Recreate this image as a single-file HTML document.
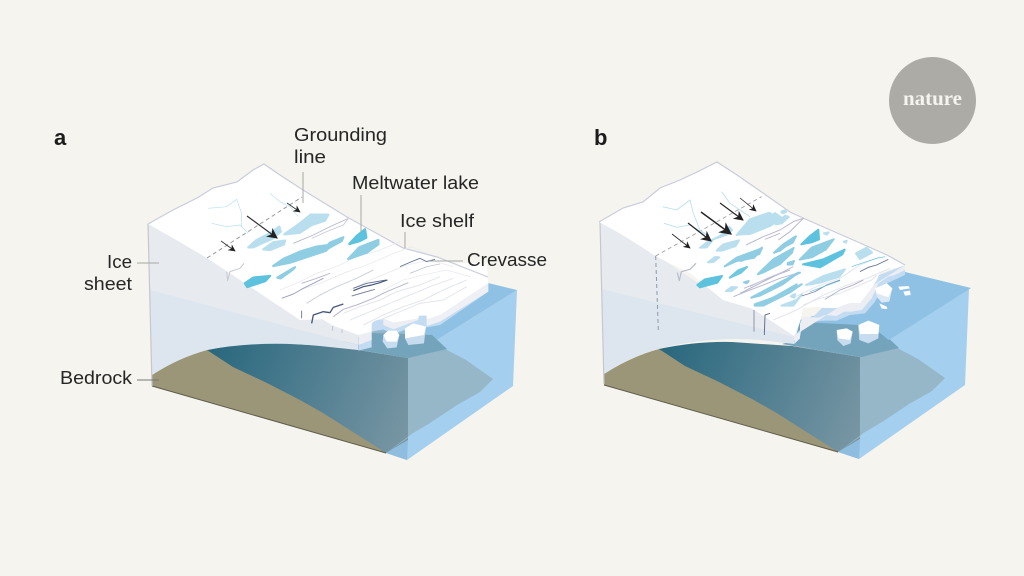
<!DOCTYPE html>
<html><head><meta charset="utf-8"><title>Ice shelf diagram</title>
<style>
html,body{margin:0;padding:0;background:#f5f4ee}
svg{display:block}
text{font-family:"Liberation Sans",sans-serif;font-size:18.5px;fill:#262626}
</style></head><body>
<svg width="1024" height="576" viewBox="0 0 1024 576" xmlns="http://www.w3.org/2000/svg">
<defs>
<linearGradient id="dk" gradientUnits="userSpaceOnUse" x1="215" y1="345" x2="410" y2="430">
<stop offset="0" stop-color="#2a687e"/><stop offset="1" stop-color="#7896a4"/></linearGradient>
<marker id="ah" viewBox="0 0 10 10" refX="9" refY="5" markerWidth="9" markerHeight="9" orient="auto" markerUnits="strokeWidth"><path d="M0 0L10 5L0 10L3 5Z" fill="#222"/></marker>
<g id="box">
<polygon points="408,358 517,290 513,386 407,460 386,453" fill="#a4cfee"/>
<polygon points="340,345 488,283 517,290 408,358" fill="#8fc1e4"/>
<path d="M207,350 Q245,342 280,343 L340,347 L408,358 L408,440 L386,453 L300,425 L207,370 Z" fill="url(#dk)"/>
<polygon points="372,330 430,335 447,350 466,360 493,379 480,392 457,405 430,423 413,433 386,453 408,438 408,358 358,350" fill="#95b7c8"/>
<polygon points="330,345 372,333 432,335 447,349 408,358" fill="#74a4bb"/>
<polygon points="386,453 408,440 407,460" fill="#8fbde0"/>
<path d="M152,375 Q178,358 207,350 L233,367 L267,383 L300,400 L323,413 L353,432 L386,453 L152,386 Z" fill="#9b9678"/>
<path d="M152,386 L386,453" stroke="#5f5c4a" stroke-width="1" fill="none"/>
<path d="M207,258 L205,290 L207,350" stroke="#9aa4b0" stroke-width="1" stroke-dasharray="4 3" fill="none"/>
</g>
</defs>

<rect width="1024" height="576" fill="#f5f4ee"/>

<!-- PANEL A -->
<use href="#box"/>
<path d="M148,224 L173,238 L207,258 L243,282 L280,302 L302,310 L358,335 L358,345 L150,290 Z" fill="#e7eaef"/>
<path d="M150,290 L358,345 L358,350 L320,346 Q260,340 207,350 Q178,358 152,375 Z" fill="#dde6ef"/>
<path d="M148,224 L152,386" stroke="#c4c7ce" stroke-width="1.2" fill="none"/>
<g transform="translate(280,270) scale(.3333)">
<polygon points="235,195 300,140 480,135 625,40 625,65 480,165 440,172 415,165 340,192 310,178 275,185 275,232 235,242" fill="#c3dcf2"/>
<polygon points="235,195 275,185 275,210 235,225" fill="#eceef3"/>
<polygon points="310,145 310,165 340,178 415,150 418,125 340,158" fill="#eceef3"/>
<polygon points="440,148 480,135 625,40 625,65 480,155 440,168" fill="#eef0f5"/>
<polygon points="310,195 325,182 350,182 358,195 350,232 322,235 308,215" fill="#c7dcef"/>
<polygon points="310,195 325,182 350,182 358,195 350,215 320,215" fill="#fff"/>
<polygon points="375,175 400,160 438,170 432,220 385,225 375,205" fill="#c7dcef"/>
<polygon points="375,175 400,160 438,170 432,195 375,205" fill="#fff"/>
<polygon points="-2,95 65,120 100,130 155,165 235,195 275,185 275,155 310,145 340,158 415,145 418,125 440,125 440,148 480,135 625,40 620,-20 0,-20" fill="#fff"/>
</g>
<path d="M148,224 L173,210 L197,198 L213,188 L237,182 L253,170 L264,164 L280,175 L303,190 L347,217 L403,248 L437,257 L488,277 L488,283 L440,315 L300,320 L243,282 L207,258 L173,238 Z" fill="#fff"/>
<path d="M148,224 L173,210 L197,198 L213,188 L237,182 L253,170 L264,164 L280,175 L303,190 L347,217 L403,248 L437,257 L488,277" stroke="#c9ccdc" stroke-width="1.2" fill="none"/>
<g transform="translate(280,110) scale(.3333)" fill="none" stroke-linejoin="round">
<path d="M0,540 L60,515 L110,490 L170,470 L230,440 L300,420 L360,395" stroke="#e9ebf2" stroke-width="2.5"/>
<path d="M60,540 L120,520 L190,490 L260,465 L330,435 L395,410 L440,430" stroke="#e9ebf2" stroke-width="2.5"/>
<path d="M210,540 L260,515 L320,490 L380,465 L450,450 L520,470" stroke="#e9ebf2" stroke-width="2.5"/>
<path d="M310,540 L370,510 L430,495 L500,480 L570,500" stroke="#e9ebf2" stroke-width="2.5"/>
<path d="M40,400 L100,375 L150,350 L205,325" stroke="#b4b7cd" stroke-width="2.5"/>
<path d="M95,385 L140,365 L190,345 L205,325" stroke="#c6c8da" stroke-width="2.5"/>
<path d="M360,470 L395,455 L420,445 L440,455 L465,448" stroke="#5d6d8e" stroke-width="2.5"/>
<path d="M390,490 L440,470 L480,462" stroke="#b4b7cd" stroke-width="2"/>
<path d="M65,520 L110,505 L150,490" stroke="#b4b7cd" stroke-width="2.5"/>
<path d="M220,535 L260,520 L320,510" stroke="#5d6d8e" stroke-width="3"/>
</g>
<g transform="translate(280,270) scale(.3333)" fill="none" stroke-linejoin="round">
<path d="M95,160 L100,135 L130,125 L150,128 L160,112 L190,102" stroke="#46567a" stroke-width="4"/>
<path d="M220,62 L250,50 L275,45 L300,38 L322,30" stroke="#46567a" stroke-width="3.5"/>
<path d="M215,78 L250,68 L285,58" stroke="#7d84a4" stroke-width="3"/>
<path d="M160,140 L190,118 L230,105 L280,85 L320,65 L385,38" stroke="#b4b7cd" stroke-width="3"/>
<path d="M5,85 L40,72 L70,55 L110,35 L130,25" stroke="#9ea3bd" stroke-width="3"/>
<path d="M80,100 L120,75 L170,50 L230,25 L280,0" stroke="#cdd0df" stroke-width="3"/>
<path d="M190,130 L240,110 L300,90 L350,65 L420,45 L480,20" stroke="#e4e6ee" stroke-width="3"/>
<path d="M210,150 L270,125 L330,100 L390,75 L450,50 L520,25" stroke="#e4e6ee" stroke-width="3"/>
<path d="M250,165 L310,135 L370,110 L430,90 L490,60 L560,30" stroke="#e4e6ee" stroke-width="3"/>
<path d="M300,150 L360,125 L420,100 L490,90 L560,50" stroke="#e4e6ee" stroke-width="3"/>
<path d="M65,145 L65,122" stroke="#5d6d8e" stroke-width="2.5"/>
<path d="M158,182 L158,168 M186,188 L186,178" stroke="#b4b7cd" stroke-width="2.5"/>
</g>
<g transform="translate(40,110) scale(.3333)" stroke-linejoin="round" stroke-width="7">
<g fill="#b9dfee" stroke="#b9dfee">
<polygon points="625,412 650,390 690,370 718,350 722,365 700,385 665,400 640,412"/>
<polygon points="670,418 700,397 735,392 732,403 690,420"/>
<polygon points="733,373 780,340 812,314 865,314 855,332 815,345 780,368"/>
</g>
<g fill="#8fcde3" stroke="#8fcde3">
<polygon points="700,468 730,447 780,425 830,410 875,404 858,422 810,438 750,458"/>
<polygon points="845,427 870,398 910,382 905,393 870,412"/>
<polygon points="712,503 765,472 757,480 722,505"/>
<polygon points="925,447 958,412 1015,390 1015,403 980,428"/>
</g>
<polygon points="615,520 640,503 690,498 676,513 622,531" fill="#5cc2dd" stroke="#5cc2dd"/>
<polygon points="928,402 950,378 975,358 979,383 960,393" fill="#5cc2dd" stroke="#5cc2dd"/>
<g fill="none" stroke="#b8e0f0" stroke-width="2">
<path d="M505,295 L560,290 L590,268 L605,310 L605,350 L625,370"/>
<path d="M515,340 L560,350 L600,345 L625,370"/>
<path d="M690,250 L720,275 L750,290 L775,320"/>
</g>
<path d="M560,485 L563,512 L570,485 L600,475 L612,460" fill="none" stroke="#c5c9d4" stroke-width="3"/>
</g>
<path d="M207,258 L302,197" stroke="#9a9a9a" stroke-width="1" stroke-dasharray="4 3" fill="none"/>
<g stroke="#333" fill="none">
<path d="M247,216 L277,238" stroke-width="1.2" marker-end="url(#ah)"/>
<path d="M221,241 L235,251" stroke-width=".8" marker-end="url(#ah)"/>
<path d="M287,203 L300,212" stroke-width=".8" marker-end="url(#ah)"/>
</g>

<!-- PANEL B -->
<g transform="translate(452,-1)"><use href="#box"/></g>
<polygon points="794,344 800,320 850,305 905,272 971,288 862,357" fill="#8fc1e4"/>
<polygon points="794,344 800,322 860,325 880,333 897,347 862,357" fill="#74a4bb"/>
<path d="M600,222 L625,237 L659,257 L695,281 L732,301 L753,309 L794,336 L794,338 L602,289 Z" fill="#e7eaef"/>
<path d="M602,289 L794,337 L794,344 L760,340 Q710,336 658,349 Q630,357 604,374 Z" fill="#dde6ef"/>
<path d="M600,222 L604,384" stroke="#c4c7ce" stroke-width="1.2" fill="none"/>
<g transform="translate(740,190) scale(.3333)">
<path d="M163,462 L180,440 L190,397 L255,392 L290,392 L330,375 L375,370 L405,335 L425,295 L445,278 L495,255 L495,225 L300,300 L163,437 Z" fill="#c3dcf2"/>
<path d="M163,437 L163,462 L180,445 L180,400 L190,380 L235,383 L255,375 L290,378 L312,365 L335,365 L365,360 L395,325 L415,280 L445,260 L465,255 L495,240 L495,225 Z" fill="#eceef3"/>
<polygon points="355,410 385,392 418,405 415,445 385,460 358,450" fill="#c7dcef"/>
<polygon points="355,405 385,392 418,405 415,432 360,432" fill="#fff"/>
<polygon points="290,425 320,415 338,425 332,460 310,468 292,450" fill="#c7dcef"/>
<polygon points="290,420 320,415 338,425 330,450 295,445" fill="#fff"/>
<polygon points="405,295 440,280 457,295 448,335 425,338 410,320" fill="#dce8f3"/>
<polygon points="405,295 440,280 457,295 445,322 410,310" fill="#fff"/>
<polygon points="475,290 505,288 510,295 480,300" fill="#fff"/>
<polygon points="490,305 510,302 512,315 495,317" fill="#fff"/>
<polygon points="418,340 440,350 442,357 425,356" fill="#fff"/>
</g>
<polygon points="599,222 623,208 643,202 660,188 680,180 697,172 717,162 737,175 763,193 790,212 803,218 860,243 887,255 905,265 897,268 888,270 880,272 877,280 868,293 860,303 850,303 844,305 837,308 825,308 818,307 803,308 800,322 794,336 753,309 723,300 690,273 657,257 623,235" fill="#fff"/>
<polyline points="599,222 623,208 643,202 660,188 680,180 697,172 717,162 737,175 763,193 790,212 803,218 860,243 887,255 905,265" fill="none" stroke="#c9ccdc" stroke-width="1.2"/>
<g transform="translate(590,150) scale(.3333)" stroke-linejoin="round" stroke-width="6">
<path d="M197,318 L205,540" stroke="#8c9aa8" stroke-width="3" stroke-dasharray="12 9" fill="none"/>
<path d="M197,318 L515,140" stroke="#9a9a9a" stroke-width="2.5" stroke-dasharray="12 9" fill="none"/>
<g fill="none" stroke="#b8e0f0" stroke-width="2.5">
<path d="M218,170 L260,180 L300,150 L310,190 L330,240 L350,255"/>
<path d="M222,220 L260,232 L300,225 L350,255"/>
<path d="M395,125 L420,160 L450,180 L480,200"/>
</g>
<path d="M262,368 L268,392 L274,365 L300,358 L318,340" fill="none" stroke="#b8bccb" stroke-width="3.5"/>
<g fill="#b9dfee" stroke="#b9dfee">
<polygon points="330,293 350,278 390,258 418,230 426,240 413,253 370,268 350,292"/>
<polygon points="380,302 400,283 447,271 437,288 395,302"/>
<polygon points="440,255 480,208 538,188 565,205 528,222 480,248"/>
<polygon points="558,223 588,198 596,201 575,220"/>
<polygon points="574,185 585,181 589,186 578,190"/>
<polygon points="354,337 375,321 388,322 370,336"/>
<polygon points="408,423 425,411 441,412 425,423"/>
</g>
<g fill="#8fcde3" stroke="#8fcde3">
<polygon points="404,349 440,323 516,295 493,323 440,333"/>
<polygon points="462,397 476,393 470,400"/>
<polygon points="504,373 540,343 610,295 606,308 570,342 520,367"/>
<polygon points="552,308 580,283 615,260 607,273 570,302"/>
<polygon points="494,467 560,438 635,403 600,427 520,467"/>
<polygon points="484,443 560,403 630,368 600,383 520,427"/>
<polygon points="593,344 612,333 608,343"/>
</g>
<polygon points="419,383 445,361 471,351 453,368" fill="#6fc8df" stroke="#6fc8df"/>
<polygon points="322,405 345,388 396,378 382,398 330,412" fill="#5cc2dd" stroke="#5cc2dd"/>
<g fill="none" stroke="#b8bbd0" stroke-width="3">
<path d="M468,285 L520,260 L570,240 L610,215 L640,205"/>
<path d="M525,268 L570,250"/>
<path d="M430,440 L480,420 L520,405 L570,385 L620,370"/>
<path d="M462,415 L510,395 L560,375 L610,350"/>
</g>
</g>
<g transform="translate(740,190) scale(.3333)" stroke-linejoin="round" stroke-width="6">
<g fill="none">
<path d="M190,345 L240,325 L300,310 L360,285 L395,270 L410,255" stroke="#e4e6ee" stroke-width="3"/>
<path d="M100,390 L170,360 L240,320 L310,290 L380,265 L450,235" stroke="#e4e6ee" stroke-width="3"/>
<path d="M165,320 L230,290 L300,265 L360,225 L420,200" stroke="#e4e6ee" stroke-width="3"/>
</g>
<g fill="#b9dfee" stroke="#b9dfee">
<polygon points="198,285 250,258 315,238 298,260 240,278"/>
<polygon points="348,190 380,173 396,188 360,207"/>
<polygon points="311,155 320,152 318,158"/>
<polygon points="252,130 266,127 260,134"/>
<polygon points="124,347 170,330 186,313 160,347"/>
<polygon points="152,319 165,312 163,323"/>
<polygon points="3,133 50,112 105,69 127,85 90,108 30,132"/>
<polygon points="104,99 135,78 145,80 115,102"/>
</g>
<g fill="#8fcde3" stroke="#8fcde3">
<polygon points="179,209 215,173 281,148 258,178 215,202"/>
<polygon points="104,188 140,158 168,139 158,158 120,177"/>
<polygon points="54,252 100,208 161,174 148,188 100,227 60,247"/>
<polygon points="3,213 66,173 58,192 20,207"/>
<polygon points="143,219 161,214 154,222"/>
<polygon points="34,323 100,288 175,248 128,283 60,317"/>
<polygon points="44,343 100,323 170,283 128,312 60,347"/>
</g>
<g fill="#5cc2dd" stroke="#5cc2dd">
<polygon points="184,163 210,138 235,119 237,148 215,157"/>
<polygon points="189,223 250,208 314,179 307,193 240,232"/>
</g>
<g fill="none">
<path d="M185,318 L225,305 L260,285 L300,270" stroke="#7d84a4" stroke-width="2.5"/>
<path d="M255,328 L300,300 L340,285 L370,270" stroke="#b4b7cd" stroke-width="3"/>
<path d="M360,245 L385,232 L410,225 L445,208" stroke="#5d6d8e" stroke-width="2.5"/>
<path d="M335,230 L370,218 L410,205 L435,200" stroke="#5cc2dd" stroke-width="2"/>
<path d="M210,305 L250,290 L300,272" stroke="#5cc2dd" stroke-width="2"/>
<path d="M0,310 L50,285 L110,255 L150,240" stroke="#b4b7cd" stroke-width="3"/>
<path d="M30,290 L80,265 L130,245" stroke="#c9ccdc" stroke-width="2.5"/>
<path d="M115,150 L150,125 L175,100 L190,85" stroke="#b4b7cd" stroke-width="3"/>
<path d="M42,360 L42,425" stroke="#9097ab" stroke-width="3"/>
<path d="M90,370 L75,375 L73,435" stroke="#66718f" stroke-width="3"/>
</g>
</g>
<g fill="none" stroke="#222">
<path d="M672,234 L690,248" stroke-width=".8" marker-end="url(#ah)"/>
<path d="M688,223 L711,241" stroke-width="1.2" marker-end="url(#ah)"/>
<path d="M701,212 L731,234" stroke-width="1.4" marker-end="url(#ah)"/>
<path d="M720,203 L743,220" stroke-width="1.1" marker-end="url(#ah)"/>
<path d="M740,198 L756,211" stroke-width=".8" marker-end="url(#ah)"/>
</g>

<!-- Leaders -->
<g stroke="#a8a8a4" stroke-width="1" fill="none">
<path d="M303,172V203M361,195V232M405,232V248M430,261H463M137,263H159"/>
<path d="M137,380H159" stroke="#777"/>
</g>

<!-- Labels -->
<text x="54" y="145" style="font-weight:700;font-size:22px;fill:#1c1c1c">a</text>
<text x="594" y="145" style="font-weight:700;font-size:22px;fill:#1c1c1c">b</text>
<text x="294" y="141" textLength="93" lengthAdjust="spacingAndGlyphs">Grounding</text>
<text x="294" y="163" textLength="32" lengthAdjust="spacingAndGlyphs">line</text>
<text x="352" y="189" textLength="127" lengthAdjust="spacingAndGlyphs">Meltwater lake</text>
<text x="400" y="227" textLength="74" lengthAdjust="spacingAndGlyphs">Ice shelf</text>
<text x="467" y="266" textLength="80" lengthAdjust="spacingAndGlyphs">Crevasse</text>
<text x="107" y="268" textLength="25" lengthAdjust="spacingAndGlyphs">Ice</text>
<text x="84" y="290" textLength="48" lengthAdjust="spacingAndGlyphs">sheet</text>
<text x="60" y="384" textLength="72" lengthAdjust="spacingAndGlyphs">Bedrock</text>

<!-- Nature logo -->
<circle cx="932.500" cy="100.500" r="43.500" fill="#acaba6"/>
<text x="903" y="105" textLength="59" lengthAdjust="spacingAndGlyphs" style="font-family:'Liberation Serif',serif;font-weight:700;font-size:20px;fill:#f5f4ee">nature</text>
</svg>
</body></html>
